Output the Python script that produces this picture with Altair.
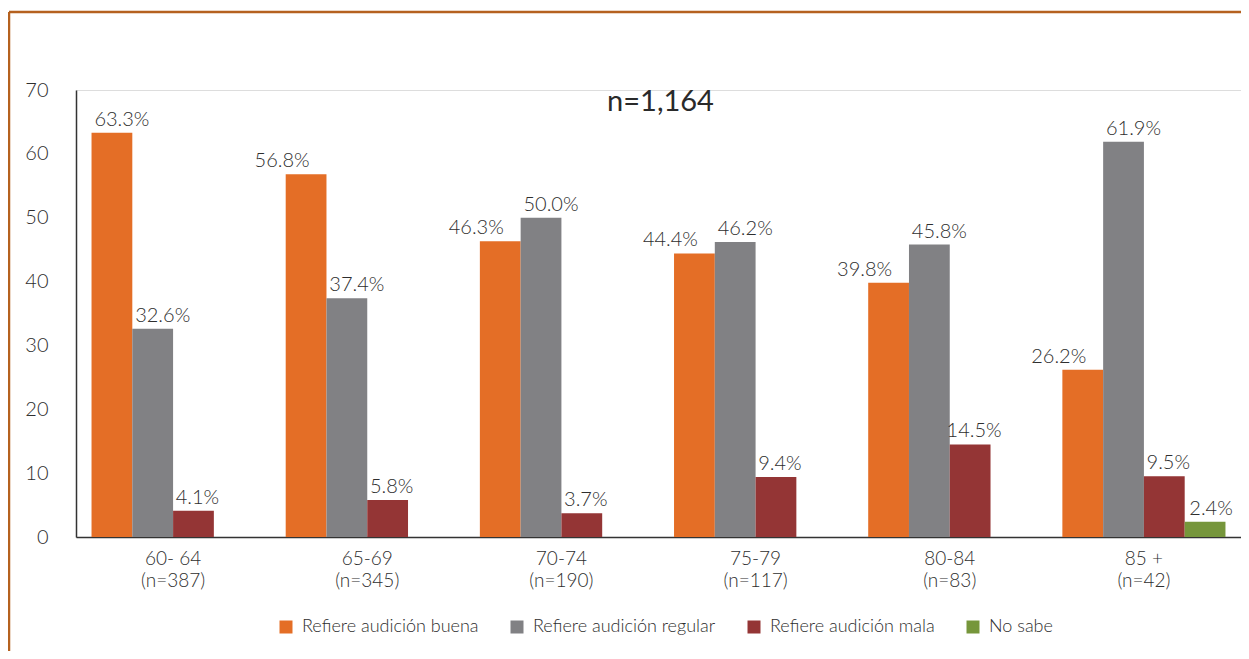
import altair as alt
import pandas as pd

ages = ["60- 64", "65-69", "70-74", "75-79", "80-84", "85 +"]
ns = ["(n=387)", "(n=345)", "(n=190)", "(n=117)", "(n=83)", "(n=42)"]
series = ["Refiere audición buena", "Refiere audición regular", "Refiere audición mala", "No sabe"]
colors = ["#E46E26", "#818184", "#943535", "#76963B"]

buena = [63.3, 56.8, 46.3, 44.4, 39.8, 26.2]
regular = [32.6, 37.4, 50.0, 46.2, 45.8, 61.9]
mala = [4.1, 5.8, 3.7, 9.4, 14.5, 9.5]
no_sabe = [None, None, None, None, None, 2.4]

title_text = "n=1,164"

groups = [f"{a}|{n}" for a, n in zip(ages, ns)]
rows = []
for s, vals in zip(series, [buena, regular, mala, no_sabe]):
    for g, v in zip(groups, vals):
        if v is not None:
            rows.append({"group": g, "series": s, "value": v, "label": f"{v:.1f}%"})
df = pd.DataFrame(rows)

W, H = 1165, 447
FONT = "Lato"
TXT = "#2e2e2e"
FW = 300

x_enc = alt.X("group:N", sort=groups,
              scale=alt.Scale(paddingInner=0.16, paddingOuter=0.08),
              axis=alt.Axis(title=None, labelAngle=0, labelExpr="split(datum.label, '|')",
                            labelFontSize=19, labelLineHeight=22, ticks=False, labelPadding=12,
                            labelColor=TXT, labelFont=FONT, labelFontWeight=FW,
                            domainColor="#333333", domainWidth=1.5))
xo_enc = alt.XOffset("series:N", sort=series,
                     scale=alt.Scale(domain=series, paddingInner=0, paddingOuter=0))
y_enc = alt.Y("value:Q", scale=alt.Scale(domain=[0, 70], nice=False),
              axis=alt.Axis(title=None, values=[0, 10, 20, 30, 40, 50, 60, 70], grid=False,
                            ticks=False, labelPadding=28, labelFontSize=20, labelColor=TXT,
                            labelFont=FONT, labelFontWeight=FW,
                            domainColor="#333333", domainWidth=1.5))

bars = alt.Chart(df).mark_bar().encode(
    x=x_enc, xOffset=xo_enc, y=y_enc,
    color=alt.Color("series:N", scale=alt.Scale(domain=series, range=colors),
                    legend=alt.Legend(title=None, orient="none", legendX=201, legendY=528,
                                      direction="horizontal", symbolType="square",
                                      symbolSize=169, symbolStrokeWidth=0, labelFontSize=18,
                                      labelFont=FONT, labelFontWeight=FW, labelColor=TXT,
                                      labelOffset=7, columnPadding=29, labelLimit=400))
)

def labels(filt, dx):
    return alt.Chart(df).transform_filter(filt).mark_text(
        dx=dx, dy=-3, baseline="bottom", fontSize=20, font=FONT, fontWeight=FW, color=TXT
    ).encode(x=alt.X("group:N", sort=groups), xOffset=alt.XOffset("series:N", sort=series),
             y="value:Q", text="label:N")

lab_layers = [
    labels((alt.datum.series == series[0]) & (alt.datum.group == groups[0]), 10),
    labels((alt.datum.series == series[0]) & (alt.datum.group != groups[0]), -24),
    labels(alt.datum.series == series[1], 10),
    labels(alt.datum.series == series[2], 4),
    labels(alt.datum.series == series[3], 6),
]

one = pd.DataFrame({"t": [title_text]})
title = alt.Chart(one).mark_text(fontSize=29, fontWeight="normal", font=FONT, color="#2a2a2a",
                                 baseline="middle").encode(
    x=alt.value(W / 2 + 2), y=alt.value(12), text="t:N")

frame_top = alt.Chart(one).mark_rule(color="#B5611F", strokeWidth=2.5).encode(
    x=alt.value(-67), x2=alt.value(W + 20), y=alt.value(-78))
frame_left = alt.Chart(one).mark_rule(color="#B5611F", strokeWidth=2.5).encode(
    x=alt.value(-67), y=alt.value(-78), y2=alt.value(H + 200))

chart = alt.layer(frame_top, frame_left, bars, *lab_layers, title).properties(
    width=W, height=H,
    autosize=alt.AutoSizeParams(type="none"),
    padding={"left": 68, "top": 82, "right": 0, "bottom": 114},
).configure_view(stroke=None).configure(background="white")

chart.save("out.html", embed_options={"renderer": "svg", "actions": False})
